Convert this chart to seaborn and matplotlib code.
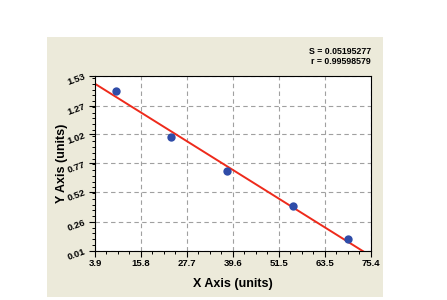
import numpy as np
import pandas as pd
import matplotlib
matplotlib.use("Agg")
import matplotlib.pyplot as plt
import seaborn as sns
from matplotlib.patches import Rectangle
from matplotlib.ticker import AutoMinorLocator, FixedLocator

# Data
x_vals = [9.4, 23.6, 38.1, 55.1, 69.4]
y_vals = [1.40, 1.00, 0.70, 0.40, 0.11]
x_ticks = [3.9, 15.8, 27.7, 39.6, 51.5, 63.5, 75.4]
y_ticks = [0.01, 0.26, 0.52, 0.77, 1.02, 1.27, 1.53]
stats_lines = ["S = 0.05195277", "r = 0.99598579"]
x_label = "X Axis (units)"
y_label = "Y Axis (units)"

df = pd.DataFrame({"x": x_vals, "y": y_vals})

sns.set_style("white")
plt.rcParams['font.family'] = ['Liberation Sans', 'DejaVu Sans']
plt.rcParams['text.color'] = 'black'
plt.rcParams['xtick.color'] = 'black'
plt.rcParams['ytick.color'] = 'black'

fig = plt.figure(figsize=(4.47, 3.0), dpi=100)
fig.patch.set_facecolor("white")
bg = Rectangle((47/447, 3/300), (383-47)/447, (297-37)/300, transform=fig.transFigure,
               facecolor="#ECEADA", edgecolor="none", zorder=-10)
fig.patches.append(bg)

ax = fig.add_axes([95/447, (300-250.7)/300, (371-95)/447, (250.7-75.7)/300])
ax.set_zorder(5)
ax.set_facecolor("white")
ax.set_xlim(x_ticks[0], x_ticks[-1])
ax.set_ylim(y_ticks[0], y_ticks[-1])

sns.regplot(data=df, x="x", y="y", ax=ax, ci=None, truncate=False,
            scatter_kws=dict(s=36, color="#2F4CA8", linewidths=0, alpha=1, zorder=3),
            line_kws=dict(color="#EE2A1B", lw=1.4, zorder=2))

ax.set_xlim(x_ticks[0], x_ticks[-1])
ax.set_ylim(y_ticks[0], y_ticks[-1])
ax.xaxis.set_major_locator(FixedLocator(x_ticks))
ax.yaxis.set_major_locator(FixedLocator(y_ticks))
ax.set_xticklabels([f"{t:.1f}" for t in x_ticks], fontsize=6.8, fontweight="bold")
ax.set_yticklabels([f"{t:.2f}" for t in y_ticks], fontsize=6.8, fontweight="bold", rotation=20)
ax.xaxis.set_minor_locator(AutoMinorLocator(4))
ax.yaxis.set_minor_locator(AutoMinorLocator(5))
ax.tick_params(axis="both", which="major", direction="out", length=4, width=0.8, color="black", pad=2,
               bottom=True, left=True)
ax.tick_params(axis="both", which="minor", direction="out", length=2.5, width=0.7, color="black",
               bottom=True, left=True)
ax.grid(True, which="major", linestyle=(0, (4, 3)), color="#A0A0A0", lw=0.8)
for s in ax.spines.values():
    s.set_visible(True)
    s.set_color("black")
    s.set_linewidth(0.8)

ax.set_xlabel("")
ax.set_ylabel("")
fig.text(233/447, 1 - 284/300, x_label, ha="center", va="center", fontsize=9, fontweight="bold")
fig.text(62/447, 1 - 163/300, y_label, ha="center", va="center", fontsize=9, fontweight="bold",
         rotation=90)
fig.text(371/447, 1 - 51/300, stats_lines[0], ha="right", va="center", fontsize=6.3, fontweight="bold")
fig.text(371/447, 1 - 62/300, stats_lines[1], ha="right", va="center", fontsize=6.3, fontweight="bold")

fig.savefig("out.png", dpi=100)
